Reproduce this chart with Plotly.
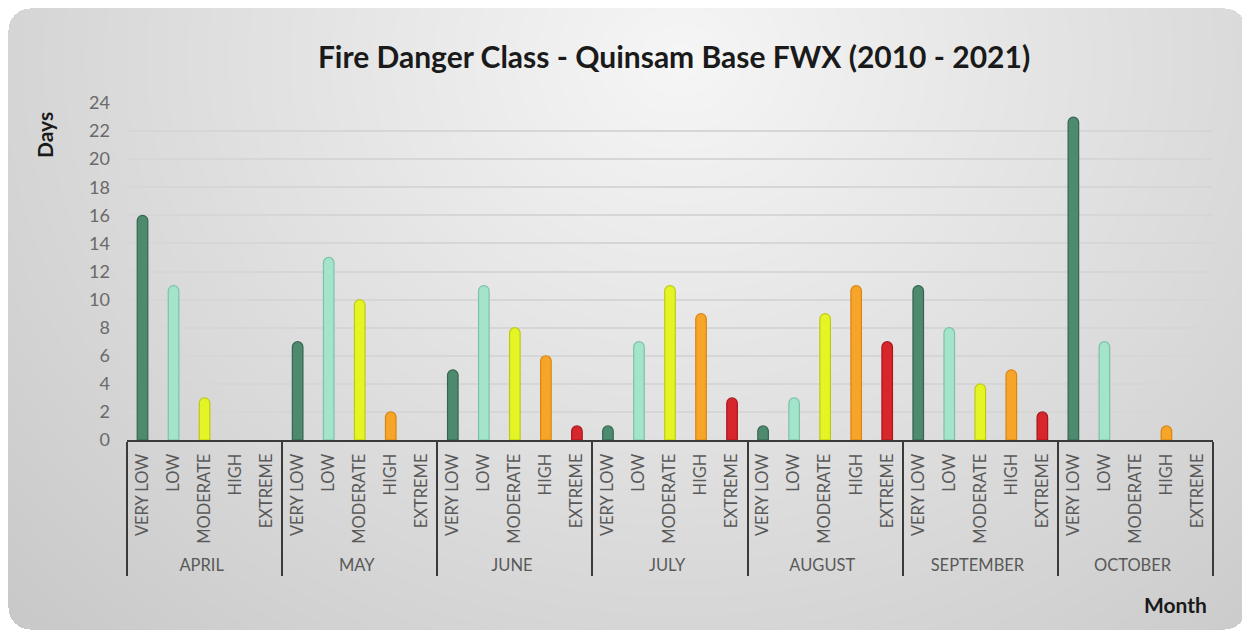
import base64
import struct
import zlib

import numpy as np
import plotly.graph_objects as go

# ---------------- data ----------------
months = ["APRIL", "MAY", "JUNE", "JULY", "AUGUST", "SEPTEMBER", "OCTOBER"]
classes = ["VERY LOW", "LOW", "MODERATE", "HIGH", "EXTREME"]
very_low = [16, 7, 5, 1, 1, 11, 23]
low = [11, 13, 11, 7, 3, 8, 7]
moderate = [3, 10, 8, 11, 9, 4, 0]
high = [0, 2, 6, 9, 11, 5, 1]
extreme = [0, 0, 1, 3, 7, 2, 0]
y_ticks = list(range(0, 25, 2))

class_colors = {
    "VERY LOW": "#4d8a6e",
    "LOW": "#a3e4cb",
    "MODERATE": "#e4f425",
    "HIGH": "#f7a528",
    "EXTREME": "#d8262d",
}
class_edges = {
    "VERY LOW": "#36654f",
    "LOW": "#7cc2a8",
    "MODERATE": "#bccb12",
    "HIGH": "#d98512",
    "EXTREME": "#a8161c",
}

series = [very_low, low, moderate, high, extreme]
x_outer, x_inner, y_vals, colors, edges, edge_w = [], [], [], [], [], []
for mi, m in enumerate(months):
    for ci, c in enumerate(classes):
        v = series[ci][mi]
        x_outer.append(m)
        x_inner.append(c)
        y_vals.append(v)
        colors.append(class_colors[c])
        edges.append(class_edges[c])
        edge_w.append(1.2 if v else 0)

# The page body has an 8px margin, so the figure is offset by 8px.
OFF = 8
W, H = 1250 - OFF, 634 - OFF


def make_png(arr):
    h, w, _ = arr.shape
    flat = arr.reshape(h, w * 4).astype(np.int16)
    sub = flat.copy()
    sub[:, 4:] = flat[:, 4:] - flat[:, :-4]
    sub = (sub % 256).astype(np.uint8)
    raw = np.zeros((h, w * 4 + 1), dtype=np.uint8)
    raw[:, 0] = 1
    raw[:, 1:] = sub
    data = zlib.compress(raw.tobytes(), 9)

    def chunk(t, d):
        c = struct.pack(">I", len(d)) + t + d
        return c + struct.pack(">I", zlib.crc32(t + d) & 0xFFFFFFFF)

    return (b"\x89PNG\r\n\x1a\n"
            + chunk(b"IHDR", struct.pack(">IIBBBBB", w, h, 8, 6, 0, 0, 0))
            + chunk(b"IDAT", data) + chunk(b"IEND", b""))


# background card with soft radial gradient (screen coords shifted by OFF)
yy, xx = np.mgrid[0:H, 0:W].astype(float)
cx, cy = 680.0 - OFF, 60.0 - OFF
t = np.sqrt(((xx - cx) / 780.0) ** 2 + ((yy - cy) / 680.0) ** 2)
g = np.clip(246 - 38 * t, 198, 246)
x0, y0, x1, y1, r = 0, 0, 1238, 621, 22
inside = (xx >= x0) & (xx <= x1) & (yy >= y0) & (yy <= y1)
for (ccx, ccy) in [(x0 + r, y0 + r), (x1 - r, y0 + r), (x0 + r, y1 - r), (x1 - r, y1 - r)]:
    corner = (np.abs(xx - ccx) <= r) & (np.abs(yy - ccy) <= r)
    corner &= ((xx < x0 + r) | (xx > x1 - r)) & ((yy < y0 + r) | (yy > y1 - r))
    inside &= ~(corner & (((xx - ccx) ** 2 + (yy - ccy) ** 2) > r * r))
img = np.zeros((H, W, 4), dtype=np.uint8)
img[..., 0] = g
img[..., 1] = g
img[..., 2] = g
img[..., 3] = np.where(inside, 255, 0)
png_uri = "data:image/png;base64," + base64.b64encode(make_png(img)).decode()

# ---------------- figure ----------------
ML, MT = 127 - OFF, 103 - OFF
PR, PB = 1213 - OFF, 440 - OFF
MR, MB = W - PR, H - PB
PW, PH = W - ML - MR, H - MT - MB

FONT = "Lato"


def px(x):
    return (x - OFF - ML) / PW


def py(y):
    return 1 - (y - OFF - MT) / PH


fig = go.Figure(
    go.Bar(
        x=[x_outer, x_inner],
        y=y_vals,
        width=0.34,
        marker=dict(color=colors, line=dict(color=edges, width=edge_w), cornerradius="50%"),
        hoverinfo="x+y",
    )
)

fig.update_layout(
    width=W,
    height=H,
    margin=dict(l=ML, r=MR, t=MT, b=MB),
    paper_bgcolor="white",
    plot_bgcolor="rgba(0,0,0,0)",
    showlegend=False,
    font=dict(family=FONT, color="#595959"),
    title=dict(
        text="<b>Fire Danger Class - Quinsam Base FWX (2010 - 2021)</b>",
        font=dict(family=FONT, size=30, color="#1a1a1a"),
        x=(674 - OFF) / W,
        xanchor="center",
        y=1 - (57 - OFF) / H,
        yanchor="middle",
    ),
    images=[dict(
        source=png_uri, xref="paper", yref="paper",
        x=-ML / PW, y=1 + MT / PH, sizex=W / PW, sizey=H / PH,
        xanchor="left", yanchor="top", sizing="stretch", layer="below",
    )],
    annotations=[
        dict(text="<b>Days</b>", xref="paper", yref="paper",
             x=px(45), y=py(135), textangle=-90,
             showarrow=False, font=dict(family=FONT, size=21, color="#1a1a1a"),
             xanchor="center", yanchor="middle"),
        dict(text="<b>Month</b>", xref="paper", yref="paper",
             x=px(1175), y=py(604),
             showarrow=False, font=dict(family=FONT, size=21, color="#1a1a1a"),
             xanchor="center", yanchor="middle"),
    ],
)

fig.update_yaxes(
    range=[0, 24],
    tickvals=y_ticks,
    showgrid=True,
    gridcolor="#d6d6d6",
    gridwidth=1.5,
    zeroline=False,
    showline=False,
    ticks="",
    ticklabelstandoff=16,
    tickfont=dict(family=FONT, size=18, color="#6a6a6a"),
    fixedrange=True,
)

fig.update_xaxes(
    type="multicategory",
    showline=True,
    linecolor="#3a3a3a",
    linewidth=2,
    showgrid=False,
    ticks="",
    tickangle=-90,
    ticklabelstandoff=5,
    showdividers=True,
    dividercolor="#3a3a3a",
    dividerwidth=2,
    tickfont=dict(family=FONT, size=16.5, color="#595959"),
    fixedrange=True,
)

fig.write_html("out.html")
